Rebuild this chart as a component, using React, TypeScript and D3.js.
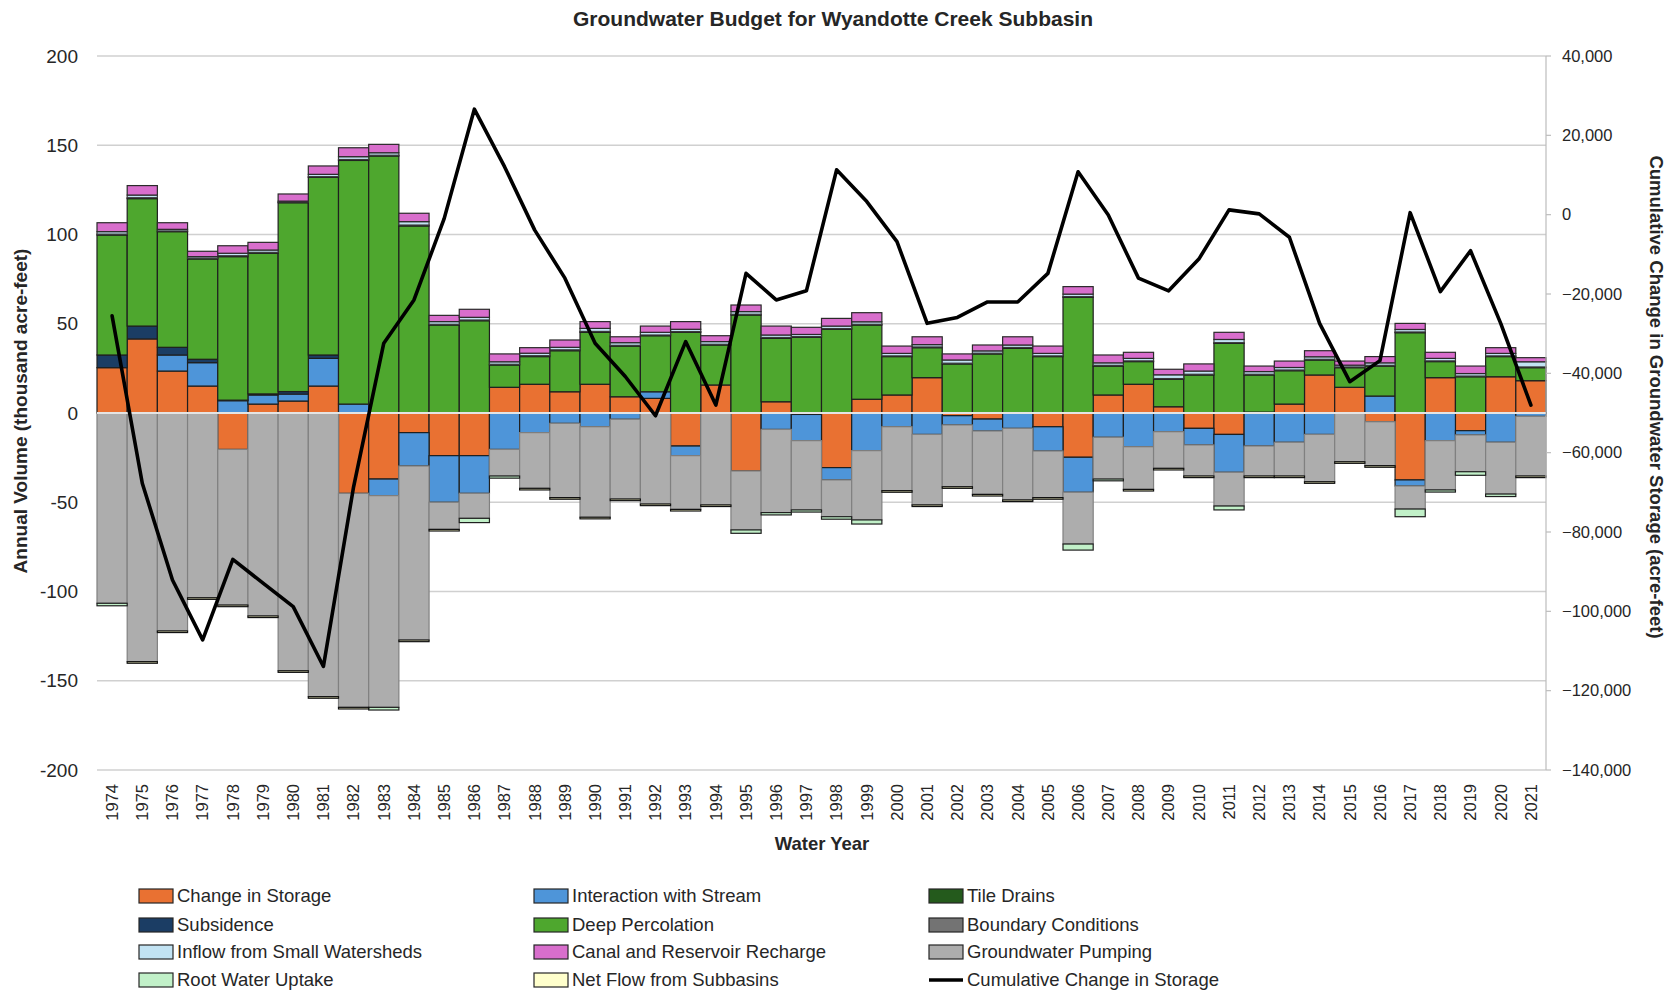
import React, { useEffect, useRef } from 'react';
import * as d3 from 'd3';

const years = ['1974','1975','1976','1977','1978','1979','1980','1981','1982','1983','1984','1985','1986','1987','1988','1989','1990','1991','1992','1993','1994','1995','1996','1997','1998','1999','2000','2001','2002','2003','2004','2005','2006','2007','2008','2009','2010','2011','2012','2013','2014','2015','2016','2017','2018','2019','2020','2021'];

// thousand acre-feet
const changeInStorage = [25.4, 41.5, 23.5, 15.1, -20.4, 5.0, 6.7, 15.1, -45.0, -37.0, -11.0, -23.9, -23.9, 14.4, 16.1, 11.9, 16.1, 9.1, 8.2, -18.5, 15.7, -32.5, 6.3, -0.8, -30.6, 7.7, 10.1, 19.8, -1.5, -3.4, 0, -7.7, -24.8, 10.1, 16.1, 3.5, -8.6, -12.0, 0.5, 5.0, 21.3, 14.4, -4.9, -37.5, 19.8, -9.9, 20.3, 18.1];
const interactionWithStream = [0, 0, 9.0, 13.1, 6.9, 5.1, 3.9, 15.5, 5.0, -9.3, -18.7, -26.1, -21.1, -20.4, -11.0, -5.8, -7.7, -3.5, 3.7, -5.4, 0, 0, -9.2, -14.7, -6.9, -21.1, -7.7, -12.0, -5.2, -6.7, -8.6, -13.6, -19.6, -13.6, -18.9, -10.5, -9.3, -21.2, -18.5, -16.4, -12.0, 0, 9.5, -3.4, -15.5, -2.4, -16.4, -1.9];
const tileDrains = [0, 0, 0, 0, 0, 0, 0, 0, 0, 0, 0, 0, 0, 0, 0, 0, 0, 0, 0, 0, 0, 0, 0, 0, 0, 0, 0, 0, 0, 0, 0, 0, 0, 0, 0, 0, 0, 0, 0, 0, 0, 0, 0, 0, 0, 0, 0, 0];
const subsidence = [7.1, 7.2, 4.3, 1.9, 0.3, 0.6, 1.4, 1.9, 0, 0, 0, 0, 0, 0, 0, 0, 0, 0, 0, 0, 0, 0, 0, 0, 0, 0, 0, 0, 0, 0, 0, 0, 0, 0, 0, 0, 0, 0, 0, 0, 0, 0, 0, 0, 0, 0, 0, 0];
const deepPercolation = [67.2, 71.4, 64.8, 56.2, 80.4, 78.8, 105.8, 99.5, 136.5, 144.0, 104.8, 49.3, 51.7, 12.5, 15.5, 23.0, 29.1, 28.4, 31.4, 45.2, 22.4, 54.9, 35.5, 42.4, 46.9, 41.6, 21.5, 16.8, 27.5, 33.1, 36.2, 31.6, 64.8, 16.2, 12.7, 15.4, 21.3, 39.0, 20.8, 18.7, 8.4, 11.0, 16.8, 45.0, 9.0, 20.3, 11.3, 7.3];
const boundaryConditions = [0.5, 0.5, 0.4, 0.4, 0.5, 0.5, 0.4, 0.4, 0.5, 0.4, 0.5, 0.4, 0.4, 0.4, 0.5, 0.5, 0.5, 0.4, 0.4, 0.4, 0.4, 0.4, 0.5, 0.4, 0.4, 0.4, 0.4, 0.4, 0.4, 0.4, 0.5, 0.4, 0.4, 0.4, 0.4, 0.4, 0.4, 0.4, 0.4, 0.4, 0.4, 0.4, 0.4, 0.4, 0.4, 0.4, 0.4, 0.4];
const inflowSmallWatersheds = [1.4, 1.5, 0.9, 0.9, 1.4, 1.3, 0.5, 1.3, 1.6, 1.4, 1.9, 1.5, 1.5, 1.4, 1.4, 1.4, 1.7, 1.5, 1.5, 1.3, 1.5, 1.5, 1.4, 1.2, 1.4, 1.4, 1.4, 1.3, 1.8, 1.3, 1.4, 1.4, 1.4, 1.4, 1.4, 2.1, 1.8, 1.8, 1.5, 1.4, 1.4, 1.0, 1.4, 1.4, 1.4, 1.4, 1.4, 2.9];
const canalReservoirRecharge = [5.0, 5.3, 3.7, 3.0, 4.2, 4.3, 4.0, 4.7, 5.0, 4.7, 4.7, 3.5, 4.5, 4.4, 3.1, 4.1, 3.8, 3.3, 3.5, 4.3, 3.3, 3.7, 5.0, 4.0, 4.3, 5.1, 4.1, 4.4, 3.4, 3.3, 4.6, 4.1, 4.2, 4.4, 3.4, 3.1, 4.0, 4.0, 3.1, 3.6, 3.4, 2.3, 3.5, 3.4, 3.4, 4.2, 3.2, 2.3];
const groundwaterPumping = [-106.6, -139.3, -122.1, -103.5, -87.2, -113.7, -144.4, -158.9, -119.9, -118.6, -97.5, -15.2, -14.0, -14.9, -31.2, -41.6, -50.7, -44.7, -51.0, -30.1, -51.5, -33.0, -46.6, -38.8, -20.6, -38.8, -35.8, -39.5, -34.6, -35.5, -40.1, -26.1, -29.0, -23.4, -23.9, -20.5, -17.4, -18.9, -16.8, -18.9, -26.5, -27.3, -24.6, -12.9, -27.6, -20.6, -29.0, -33.4];
const rootWaterUptake = [-1.4, 0, 0, 0, 0, 0, 0, 0, 0, -1.5, 0, 0, -2.4, -1.2, 0, 0, 0, 0, 0, 0, 0, -1.9, -1.3, -1.2, -1.4, -2.3, 0, 0, 0, 0, 0, 0, -3.4, -1.0, 0, 0, 0, -2.2, 0, 0, 0, 0, 0, -4.3, -1.2, -2.0, -1.4, 0];
const netFlowSubbasins = [0, -0.9, -0.9, -0.9, -0.9, -0.9, -0.9, -0.9, -0.9, 0, -0.9, -0.9, 0, 0, -0.9, -0.9, -0.9, -0.9, -0.9, -0.9, -0.9, 0, 0, 0, 0, 0, -0.9, -0.9, -0.9, -0.9, -0.9, -0.9, 0, 0, -0.9, -0.9, -0.9, 0, -0.9, -0.9, -0.9, -0.9, -0.9, 0, 0, 0, 0, -0.9];

// acre-feet
const cumulativeChange = [-25500, -67700, -92100, -107200, -86900, -92900, -98800, -113900, -68600, -32400, -21500, -1000, 26600, 12100, -3900, -16000, -32400, -40800, -50700, -32000, -48000, -14800, -21500, -19200, 11300, 3300, -6800, -27400, -25900, -22000, -22000, -14800, 10800, -100, -16000, -19200, -11200, 1200, 200, -5700, -27400, -42100, -36800, 500, -19400, -9100, -27400, -48000];

const leftTicks = [200, 150, 100, 50, 0, -50, -100, -150, -200];
const rightTicks = [40000, 20000, 0, -20000, -40000, -60000, -80000, -100000, -120000, -140000];

const series = [
  { name: 'Change in Storage', values: changeInStorage, fill: '#E97132', stroke: '#1f1f1f' },
  { name: 'Interaction with Stream', values: interactionWithStream, fill: '#4E95D9', stroke: '#1f1f1f' },
  { name: 'Tile Drains', values: tileDrains, fill: '#245A1C', stroke: '#1f1f1f' },
  { name: 'Subsidence', values: subsidence, fill: '#1B3D64', stroke: '#1f1f1f' },
  { name: 'Deep Percolation', values: deepPercolation, fill: '#4EA72E', stroke: '#1f1f1f' },
  { name: 'Boundary Conditions', values: boundaryConditions, fill: '#737373', stroke: '#1f1f1f' },
  { name: 'Inflow from Small Watersheds', values: inflowSmallWatersheds, fill: '#C2E3F3', stroke: '#3a3a3a' },
  { name: 'Canal and Reservoir Recharge', values: canalReservoirRecharge, fill: '#D86ECC', stroke: '#2a2a2a' },
  { name: 'Groundwater Pumping', values: groundwaterPumping, fill: '#ADADAD', stroke: '#808080' },
  { name: 'Root Water Uptake', values: rootWaterUptake, fill: '#C1F0C8', stroke: '#1f1f1f' },
  { name: 'Net Flow from Subbasins', values: netFlowSubbasins, fill: '#FFFFCC', stroke: '#111111' },
];

const W = 1675;
const H = 995;
const font = "'Liberation Sans', Arial, sans-serif";

export default function App() {
  const ref = useRef<SVGSVGElement>(null);

  useEffect(() => {
    const svg = d3.select(ref.current);
    svg.selectAll('*').remove();

    const left = 97, right = 1546, top = 56, bottom = 770;

    const x = d3.scaleBand().domain(years).range([left, right]).padding(0);
    const y = d3.scaleLinear().domain([-200, 200]).range([bottom, top]);
    const y2 = d3.scaleLinear().domain([-140000, 40000]).range([bottom, top]);

    // gridlines
    svg.append('g')
      .selectAll('line')
      .data(leftTicks)
      .enter()
      .append('line')
      .attr('x1', left).attr('x2', right)
      .attr('y1', d => y(d)).attr('y2', d => y(d))
      .attr('stroke', '#d0d0d0')
      .attr('stroke-width', 1.5);

    // stacked bars
    const rows = years.map((yr, i) => {
      const r: any = { year: yr };
      series.forEach(s => { r[s.name] = s.values[i]; });
      return r;
    });
    const stack = d3.stack<any>()
      .keys(series.map(s => s.name))
      .offset(d3.stackOffsetDiverging);
    const layers = stack(rows);

    layers.forEach((layer, li) => {
      const s = series[li];
      svg.append('g')
        .selectAll('rect')
        .data(layer.filter(d => d[1] - d[0] !== 0))
        .enter()
        .append('rect')
        .attr('x', d => x(d.data.year) as number)
        .attr('width', x.bandwidth())
        .attr('y', d => y(Math.max(d[0], d[1])))
        .attr('height', d => Math.abs(y(d[0]) - y(d[1])))
        .attr('fill', s.fill)
        .attr('stroke', s.stroke)
        .attr('stroke-width', 1.2);
    });

    // category axis line at zero
    svg.append('line')
      .attr('x1', left).attr('x2', right)
      .attr('y1', y(0)).attr('y2', y(0))
      .attr('stroke', '#e4e4e4')
      .attr('stroke-width', 2);

    // right axis
    svg.append('line')
      .attr('x1', right).attr('x2', right)
      .attr('y1', top).attr('y2', bottom)
      .attr('stroke', '#bdbdbd').attr('stroke-width', 1.2);
    svg.append('g')
      .selectAll('line')
      .data(rightTicks)
      .enter()
      .append('line')
      .attr('x1', right).attr('x2', right + 5)
      .attr('y1', d => y2(d)).attr('y2', d => y2(d))
      .attr('stroke', '#bdbdbd').attr('stroke-width', 1.2);

    // cumulative line
    const line = d3.line<number>()
      .x((d, i) => (x(years[i]) as number) + x.bandwidth() / 2)
      .y(d => y2(d));
    svg.append('path')
      .datum(cumulativeChange)
      .attr('d', line)
      .attr('fill', 'none')
      .attr('stroke', '#000')
      .attr('stroke-width', 3.6)
      .attr('stroke-linejoin', 'round')
      .attr('stroke-linecap', 'round');

    // tick labels
    svg.append('g')
      .selectAll('text')
      .data(leftTicks)
      .enter()
      .append('text')
      .attr('x', 78)
      .attr('y', d => y(d))
      .attr('dy', '0.35em')
      .attr('text-anchor', 'end')
      .attr('font-family', font)
      .attr('font-size', 19)
      .attr('fill', '#262626')
      .text(d => d);

    svg.append('g')
      .selectAll('text')
      .data(rightTicks)
      .enter()
      .append('text')
      .attr('x', 1562)
      .attr('y', d => y2(d))
      .attr('dy', '0.35em')
      .attr('text-anchor', 'start')
      .attr('font-family', font)
      .attr('font-size', 16.5)
      .attr('fill', '#262626')
      .text(d => d3.format(',')(d));

    svg.append('g')
      .selectAll('text')
      .data(years)
      .enter()
      .append('text')
      .attr('transform', d => `translate(${(x(d) as number) + x.bandwidth() / 2},${bottom + 14}) rotate(-90)`)
      .attr('dy', '0.35em')
      .attr('text-anchor', 'end')
      .attr('font-family', font)
      .attr('font-size', 16.5)
      .attr('fill', '#262626')
      .text(d => d);

    // titles
    svg.append('text')
      .attr('x', 833).attr('y', 26)
      .attr('text-anchor', 'middle')
      .attr('font-family', font)
      .attr('font-weight', 'bold')
      .attr('font-size', 21)
      .attr('fill', '#262626')
      .text('Groundwater Budget for Wyandotte Creek Subbasin');

    svg.append('text')
      .attr('x', 822).attr('y', 850)
      .attr('text-anchor', 'middle')
      .attr('font-family', font)
      .attr('font-weight', 'bold')
      .attr('font-size', 18.5)
      .attr('fill', '#262626')
      .text('Water Year');

    svg.append('text')
      .attr('transform', 'translate(27,411) rotate(-90)')
      .attr('text-anchor', 'middle')
      .attr('font-family', font)
      .attr('font-weight', 'bold')
      .attr('font-size', 19)
      .attr('fill', '#262626')
      .text('Annual Volume (thousand acre-feet)');

    svg.append('text')
      .attr('transform', 'translate(1650,397) rotate(90)')
      .attr('text-anchor', 'middle')
      .attr('font-family', font)
      .attr('font-weight', 'bold')
      .attr('font-size', 18.5)
      .attr('fill', '#262626')
      .text('Cumulative Change in Groundwater Storage (acre-feet)');

    // legend: 3 columns, filled row by row
    const legendItems = [...series.map(s => ({ name: s.name, fill: s.fill, line: false })),
      { name: 'Cumulative Change in Storage', fill: '#000', line: true }];
    const colX = [139, 534, 929];
    const rowY = [896, 925, 952, 980];
    const lg = svg.append('g');
    legendItems.forEach((it, i) => {
      const cx = colX[i % 3];
      const cy = rowY[Math.floor(i / 3)];
      if (it.line) {
        lg.append('line')
          .attr('x1', cx).attr('x2', cx + 34)
          .attr('y1', cy).attr('y2', cy)
          .attr('stroke', '#000').attr('stroke-width', 3.6);
      } else {
        lg.append('rect')
          .attr('x', cx).attr('y', cy - 7)
          .attr('width', 34).attr('height', 14)
          .attr('fill', it.fill)
          .attr('stroke', '#262626').attr('stroke-width', 1.2);
      }
      lg.append('text')
        .attr('x', cx + 38).attr('y', cy)
        .attr('dy', '0.35em')
        .attr('font-family', font)
        .attr('font-size', 18.5)
        .attr('fill', '#262626')
        .text(it.name);
    });
  }, []);

  return (
    <svg ref={ref} width={W} height={H} style={{ position: 'absolute', left: 0, top: 0, background: '#fff' }} />
  );
}
